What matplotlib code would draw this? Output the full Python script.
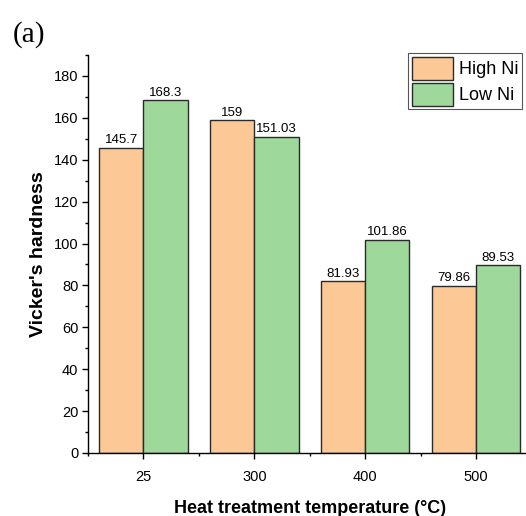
"""Vicker's hardness vs heat treatment temperature, high/low Ni, panel (a)."""

import matplotlib
matplotlib.use("Agg")
import matplotlib.pyplot as plt
import numpy as np
from matplotlib.ticker import MultipleLocator, FixedLocator

plt.rcParams["font.family"] = ["Liberation Sans", "DejaVu Sans"]

temperatures = ["25", "300", "400", "500"]
high_ni = [145.7, 159, 81.93, 79.86]
low_ni = [168.3, 151.03, 101.86, 89.53]
high_labels = ["145.7", "159", "81.93", "79.86"]
low_labels = ["168.3", "151.03", "101.86", "89.53"]

HIGH_COLOR = "#FCC896"
LOW_COLOR = "#9ED89B"
EDGE_COLOR = "#2a2a2a"

fig = plt.figure(figsize=(5.26, 5.16), dpi=100)
ax = fig.add_axes([0.1673, 0.1221, 0.843, 0.7713])

x = np.arange(len(temperatures))
width = 0.4
bars_high = ax.bar(x - width / 2, high_ni, width, color=HIGH_COLOR,
                   edgecolor=EDGE_COLOR, linewidth=1.0, label="High Ni")
bars_low = ax.bar(x + width / 2, low_ni, width, color=LOW_COLOR,
                  edgecolor=EDGE_COLOR, linewidth=1.0, label="Low Ni")
ax.bar_label(bars_high, labels=high_labels, padding=1, fontsize=9.5)
ax.bar_label(bars_low, labels=low_labels, padding=1, fontsize=9.5)

ax.set_xlim(-0.5, 3.5)
ax.set_ylim(0, 190)
ax.set_xticks(x)
ax.set_xticklabels(temperatures)
ax.xaxis.set_minor_locator(FixedLocator([-0.5, 0.5, 1.5, 2.5]))
ax.yaxis.set_major_locator(MultipleLocator(20))
ax.yaxis.set_minor_locator(MultipleLocator(10))
ax.tick_params(axis="both", which="major", direction="out", length=4,
               width=1, labelsize=10.5, pad=3)
ax.tick_params(axis="both", which="minor", direction="out", length=2.5, width=1)
ax.tick_params(axis="x", which="major", pad=8)

for side in ("top", "right"):
    ax.spines[side].set_visible(False)
for side in ("left", "bottom"):
    ax.spines[side].set_linewidth(1.0)

ax.set_xlabel("Heat treatment temperature (\u00b0C)", fontsize=13,
              fontweight="bold", labelpad=12)
ax.set_ylabel("Vicker's hardness", fontsize=14, fontweight="bold", labelpad=5)

leg = ax.legend(loc="upper right", bbox_to_anchor=(0.9924, 0.8973),
                bbox_transform=fig.transFigure, fontsize=13, frameon=True,
                fancybox=False, edgecolor="#555555", framealpha=1,
                handlelength=2.3, handleheight=1.6, labelspacing=0.15,
                borderpad=0.2, handletextpad=0.3, borderaxespad=0)
leg.get_frame().set_linewidth(0.8)

fig.text(0.025, 0.96, "(a)", fontsize=21, family=["Liberation Serif", "DejaVu Serif"],
         va="top", ha="left")

fig.savefig("out.png", dpi=100)
